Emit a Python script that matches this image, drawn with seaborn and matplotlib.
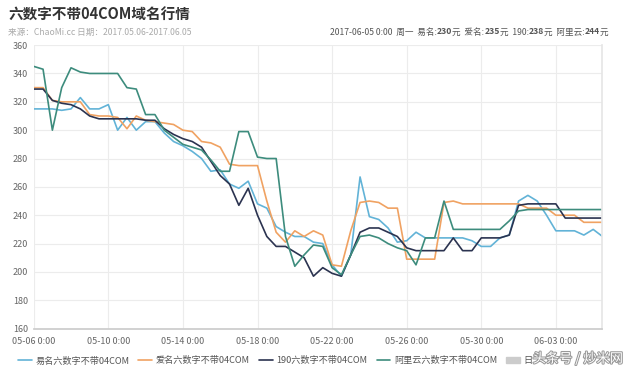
import numpy as np
import pandas as pd
import matplotlib
matplotlib.use("Agg")
import matplotlib.pyplot as plt
import matplotlib.ticker as mticker
import matplotlib.dates as mdates
import matplotlib.patheffects as pe
from matplotlib.lines import Line2D
from matplotlib.patches import Patch
import seaborn as sns

# 数据：2017-05-06 起，每半天一个点
start = pd.Timestamp("2017-05-06")
days = np.arange(0, 30.5 + 0.01, 0.5)
times = start + pd.to_timedelta(days, unit="D")

yiming = [315, 315, 315, 314, 315, 323, 315, 315, 318, 300,
          309, 300, 306, 306, 298, 292, 289, 285, 280, 271,
          272, 262, 259, 264, 248, 245, 232, 228, 225, 225,
          221, 220, 205, 197, 212, 267, 239, 237, 231, 221,
          222, 228, 224, 224, 224, 224, 224, 222, 218, 218,
          224, 226, 250, 254, 250, 240, 229, 229, 229, 226,
          230, 225]
aiming = [330, 330, 321, 320, 320, 320, 311, 310, 310, 309,
          301, 310, 307, 306, 305, 304, 300, 299, 292, 291,
          288, 276, 275, 275, 275, 250, 228, 221, 229, 225,
          229, 226, 205, 204, 229, 249, 250, 249, 245, 245,
          209, 209, 209, 209, 249, 250, 248, 248, 248, 248,
          248, 248, 248, 245, 245, 245, 240, 240, 240, 235,
          235, 235]
s190 = [329, 329, 321, 319, 318, 315, 310, 308, 308, 308,
        308, 308, 307, 307, 301, 297, 294, 292, 288, 278,
        268, 262, 247, 259, 240, 225, 218, 218, 214, 210,
        197, 203, 199, 197, 212, 228, 231, 231, 228, 225,
        217, 215, 215, 215, 215, 224, 215, 215, 224, 224,
        224, 226, 247, 248, 248, 248, 248, 238, 238, 238,
        238, 238]
aliyun = [345, 343, 300, 330, 344, 341, 340, 340, 340, 340,
          330, 329, 311, 311, 300, 295, 290, 288, 286, 279,
          271, 271, 299, 299, 281, 280, 280, 225, 204, 212,
          219, 218, 203, 198, 212, 225, 226, 224, 220, 217,
          215, 205, 224, 224, 250, 230, 230, 230, 230, 230,
          230, 236, 243, 244, 244, 244, 244, 244, 244, 244,
          244, 244]

names = ["易名六数字不带04COM", "爱名六数字不带04COM", "190六数字不带04COM", "阿里云六数字不带04COM"]
colors = ["#62b3d7", "#f0a262", "#2b3350", "#3d8c7d"]

df = pd.concat([
    pd.DataFrame({"time": times, "price": v, "series": n})
    for n, v in zip(names, [yiming, aiming, s190, aliyun])
])

sns.set_theme(style="white")
plt.rcParams['font.family'] = ['Noto Sans CJK SC', 'DejaVu Sans']

fig = plt.figure(figsize=(6.4, 3.76), dpi=100)
ax = fig.add_axes([0.0527, 0.126, 0.8887, 0.754])

sns.lineplot(data=df, x="time", y="price", hue="series", hue_order=names,
             palette=dict(zip(names, colors)), linewidth=1.2, legend=False, ax=ax)

ax.set_xlim(start, start + pd.Timedelta(days=30.5))
ax.set_ylim(160, 360)
ax.set_yticks(np.arange(160, 361, 20))
ax.xaxis.set_major_locator(mdates.DayLocator(bymonthday=[6, 10, 14, 18, 22, 26, 30, 3]))
ax.set_xticks(pd.date_range(start, periods=8, freq="4D"))
ax.xaxis.set_major_formatter(mticker.FuncFormatter(
    lambda x, pos: mdates.num2date(x).strftime("%m-%d") + " 0:00"))
ax.set_xlabel("")
ax.set_ylabel("")
ax.grid(True, color="#ececec", lw=0.8)
ax.set_axisbelow(True)
for s in ["left", "top"]:
    ax.spines[s].set_visible(False)
ax.spines["right"].set_color("#e6e6e6")
ax.spines["bottom"].set_color("#cccccc")
ax.tick_params(axis="y", length=0, pad=4, labelsize=6.5, labelcolor="#666666")
ax.tick_params(axis="x", length=3, width=0.8, color="#999999", pad=3,
               labelsize=6.5, labelcolor="#666666")

# 标题
fig.text(8 / 640, 1 - 15 / 376, "六数字不带04COM域名行情", fontsize=10.5,
         fontweight="bold", color="#333333", va="center", ha="left")
fig.text(8 / 640, 1 - 32 / 376, "来源：ChaoMi.cc 日期：2017.05.06-2017.06.05",
         fontsize=6.2, color="#aaaaaa", va="center", ha="left")

parts = [("2017-06-05 0:00  周一  易名:", "normal"), ("230", "bold"),
         ("元  爱名:", "normal"), ("235", "bold"), ("元  190:", "normal"),
         ("238", "bold"), ("元  阿里云:", "normal"), ("244", "bold"), ("元", "normal")]
t = fig.text(330 / 640, 1 - 32 / 376, parts[0][0], fontsize=6.2, color="#555555",
             va="center", ha="left")
for s, w in parts[1:]:
    t = ax.annotate(s, xy=(1, 0), xycoords=t, va="bottom", ha="left", fontsize=6.2,
                    fontweight=w, color="#555555", annotation_clip=False)

# 图例
handles = [Line2D([0], [0], color=c, lw=1.2) for c in colors]
handles.append(Patch(color="#cccccc"))
fig.legend(handles, names + ["日"], loc="center left", bbox_to_anchor=(0.015, 0.04),
           ncol=5, frameon=False, fontsize=6.6, handlelength=1.5, handleheight=0.6,
           columnspacing=1.0, handletextpad=0.4, labelcolor="#555555")

fig.text(578 / 640, 1 - 359 / 376, "头条号 / 炒米网", fontsize=9.5, color="white",
         ha="center", va="center",
         path_effects=[pe.withStroke(linewidth=1.5, foreground="#999999")])

fig.savefig("out.png", dpi=100)
